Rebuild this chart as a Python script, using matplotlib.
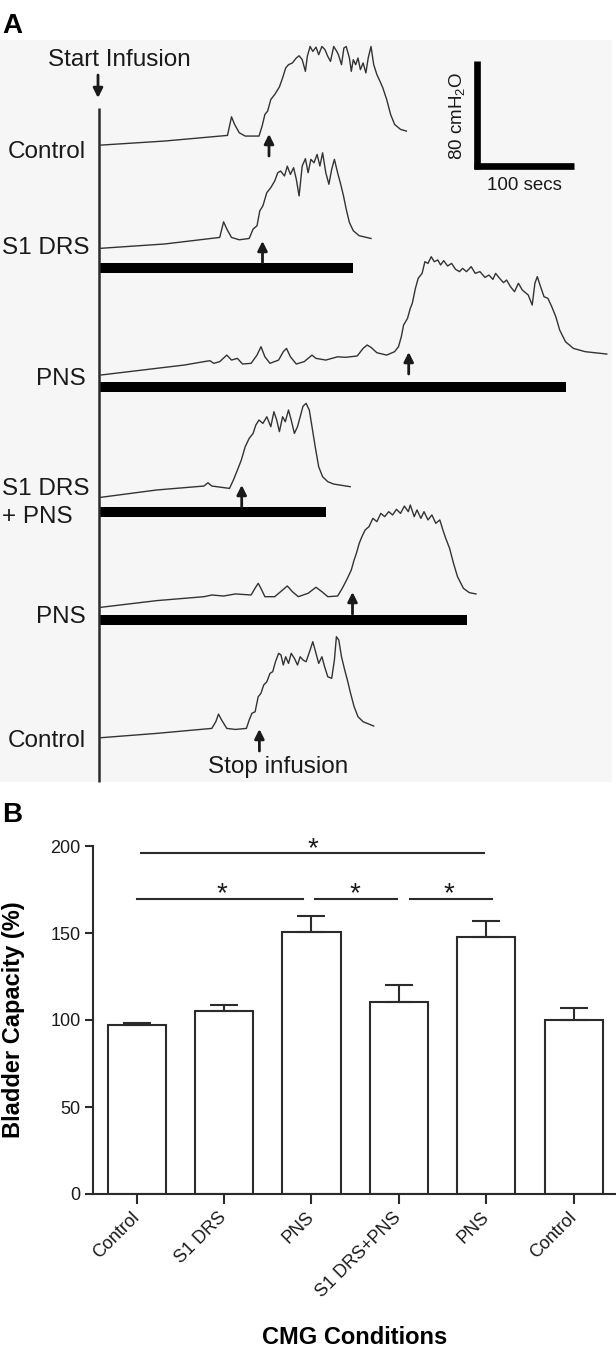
import matplotlib
matplotlib.use("Agg")
import matplotlib.pyplot as plt
from matplotlib.patches import Rectangle
import numpy as np

plt.rcParams['font.family'] = ['Liberation Sans', 'DejaVu Sans']
plt.rcParams['mathtext.fontset'] = 'custom'
plt.rcParams['mathtext.rm'] = 'Liberation Sans'
plt.rcParams['mathtext.it'] = 'Liberation Sans:italic'

# ---------------- data: panel A, CMG traces (time in s, pressure in cmH2O) ----------------
trace_labels = ["Control", "S1 DRS", "PNS", "S1 DRS\n+ PNS", "PNS", "Control"]

control1_t = [0, 63.7, 126.5, 130.5, 133.6, 138.3, 144.2, 158, 161.1, 163.9, 166.6, 169.8, 173.7,
              178.4, 181.6, 184.7, 187.5, 191.4, 195.3, 198.1, 201.2, 204.4, 206.3, 209.1, 211.8,
              215, 217.7, 220.9, 224, 226.8, 229.5, 232.7, 235.8, 237.4, 240.5, 242.9, 245.2,
              248.4, 250.3, 252.3, 254.7, 257, 259.4, 262.1, 264.9, 267.2, 270, 272.7, 275.9,
              279, 281.8, 285.7, 289.6, 293.6, 299.5, 305.4]
control1_p = [0, 3.1, 7.4, 21.6, 15.8, 9.4, 6.9, 6.9, 14.5, 23.4, 25.9, 34.8, 38.6,
              44.4, 51.3, 58.9, 61.4, 62.7, 66.5, 68.2, 65.2, 56.3, 67.7, 75.3, 71.5,
              74.8, 69.0, 75.3, 72.8, 67.7, 63.9, 75.3, 71.5, 69.0, 61.4, 74.1, 75.3,
              66.5, 56.3, 65.2, 61.4, 66.5, 57.6, 62.7, 55.1, 66.5, 75.3, 61.4, 53.8,
              48.7, 43.7, 34.8, 23.4, 15.8, 12.0, 10.7]

s1drs_t = [0, 63.7, 118.7, 122.6, 125.8, 130.5, 138.3, 148.2, 152.1, 156, 158.8, 161.9, 165.8,
           169.8, 173.7, 176.8, 179.6, 183.5, 186.3, 189.4, 192.6, 195.3, 198.1, 201.2, 204.4,
           207.1, 209.9, 213, 216.1, 218.9, 221.6, 224.8, 227.9, 230.7, 233.4, 236.6, 239.7,
           242.5, 245.2, 248.4, 252.3, 258.2, 270]
s1drs_p = [0, 3.3, 8.3, 20.2, 14.7, 8.3, 6.5, 7.5, 14.7, 17.2, 28.6, 32.4, 42.5,
           46.3, 51.4, 57.7, 59.0, 55.2, 62.7, 56.4, 61.5, 52.7, 40.0, 62.8, 68.4,
           57.7, 67.9, 65.3, 71.7, 62.8, 72.9, 57.7, 48.9, 60.3, 67.9, 57.7, 48.9,
           40.0, 29.9, 19.7, 13.4, 9.6, 7.5]

pns1_t = [0, 55.8, 83.3, 103, 108.9, 112.8, 118.7, 125.8, 130.5, 136.4, 141.5, 150.1, 156, 160,
          163.9, 169, 177.6, 182.3, 185.5, 189.4, 195.3, 203.2, 211, 214.9, 224.8, 236.6, 244.4,
          256.2, 262.1, 266.1, 270, 275.9, 285.7, 293.6, 297.5, 300.3, 302.6, 306.5, 309.3,
          311.3, 314.4, 317.2, 321.1, 323.9, 327, 330.2, 333.3, 336.8, 339.6, 342.7, 346.6,
          350.6, 354.5, 358.5, 361.6, 365.5, 370.2, 374.2, 378.9, 384, 387.9, 391.9, 394.6,
          398.6, 402.5, 405.6, 409.5, 413.5, 417.4, 421.3, 427.2, 431.2, 433.9, 436.3, 439,
          443, 446.9, 450.8, 454.8, 458.7, 464.5, 472.4, 484.2, 505.8]
pns1_p = [0, 5.1, 7.6, 10.2, 10.9, 8.9, 10.2, 15.2, 11.4, 12.7, 8.4, 8.9, 15.2, 21.6,
          13.9, 8.9, 11.4, 17.8, 20.3, 13.9, 8.4, 10.2, 15.2, 12.7, 11.4, 13.9, 13.5,
          14.5, 20.3, 22.9, 21.1, 17.0, 15.2, 17.8, 21.6, 29.2, 38.2, 43.2, 50.9,
          54.7, 66.1, 73.8, 77.6, 86.5, 85.2, 90.3, 86.5, 87.8, 84.0, 87.3, 83.2,
          85.2, 80.7, 78.9, 81.4, 78.9, 82.7, 77.6, 78.9, 74.5, 76.3, 73.0, 77.6,
          73.8, 70.5, 72.5, 67.4, 63.6, 70.0, 64.9, 61.1, 53.4, 70.0, 75.1, 68.7,
          59.8, 58.5, 52.1, 44.5, 34.3, 25.4, 20.3, 17.8, 16.0]

combo_t = [0, 55.8, 103, 106.9, 110.8, 128.5, 132.4, 136.4, 140.3, 144.2, 148.2, 152.1, 154.8,
           158, 161.9, 165.8, 169.8, 172.9, 175.7, 178.4, 181.6, 184.3, 187.5, 190.2, 193.4,
           196.5, 199.2, 202, 205.1, 208.3, 211, 214.2, 217.7, 221.6, 226.8, 232.7, 249.2]
combo_p = [0, 5.6, 8.6, 11.1, 8.6, 6.8, 13.2, 20.8, 28.4, 38.6, 45.0, 48.8, 55.1,
           59.0, 56.4, 61.5, 53.9, 65.3, 59.0, 50.1, 61.5, 57.7, 66.6, 59.0, 48.8,
           53.9, 61.5, 69.5, 71.7, 66.6, 53.9, 38.6, 23.3, 15.7, 11.9, 10.1, 8.1]

pns2_t = [0, 55.8, 103, 110.9, 122.6, 134.4, 150.1, 154, 157.2, 159.9, 163.9, 173.7, 181.6,
          186.3, 191.4, 197.3, 207.1, 215, 220.9, 226.8, 236.6, 241.3, 246.4, 250.3, 253.1,
          255.4, 258.2, 260.9, 264.1, 268, 271.9, 275.9, 279.8, 283.7, 287.7, 291.6, 295.5,
          299.5, 303.4, 307.3, 309.3, 313.2, 316, 319.9, 323, 327, 330.9, 334.8, 338.8,
          341.9, 344.7, 348.6, 352.5, 356.5, 362.4, 368.3, 375]
pns2_p = [0, 5.1, 8.1, 9.4, 8.6, 10.2, 9.4, 14.5, 18.3, 14.5, 8.1, 8.1, 13.2,
          16.3, 11.9, 8.1, 10.7, 15.3, 11.9, 8.1, 8.6, 14.5, 22.1, 28.5, 36.1,
          41.2, 48.8, 53.9, 59.0, 61.6, 67.9, 65.4, 71.7, 69.2, 73.0, 70.5, 74.8,
          71.7, 77.3, 73.0, 78.1, 69.2, 74.3, 67.9, 73.0, 66.7, 70.5, 64.1, 66.7,
          59.0, 52.7, 45.0, 33.6, 23.4, 14.5, 11.2, 10.2]

control2_t = [0, 55.8, 110.8, 114.8, 117.5, 120.6, 125.8, 134.4, 145.4, 148.2, 150.9, 154.1,
              157.2, 159.9, 162.7, 165.8, 169, 171.7, 174.5, 177.6, 180, 182.3, 184.7, 187.5,
              190.2, 193.4, 196.5, 199.2, 202, 205.1, 209.1, 211.8, 215, 217.7, 220.9, 223.6,
              226.8, 230.7, 233.4, 235.4, 237.8, 240.5, 243.7, 246.4, 249.6, 253.1, 257,
              262.1, 272.7]
control2_p = [0, 3.3, 7.1, 12.2, 18.0, 13.5, 7.1, 6.3, 7.1, 13.5, 18.6, 19.8,
              31.3, 33.8, 40.2, 42.7, 49.1, 50.4, 58.0, 64.4, 63.1, 55.5, 61.8, 56.7,
              64.4, 60.6, 55.5, 61.8, 59.3, 58.0, 66.9, 73.3, 64.4, 56.7, 61.8, 54.2,
              46.5, 45.3, 59.3, 77.1, 74.5, 61.8, 51.7, 44.0, 33.8, 23.7, 16.0,
              12.2, 8.9]

# time of voiding (stop infusion arrows), s
void_times = [168, 161.5, 307.7, 140.7, 251.5, 158.4]
# stimulation durations (s) for S1 DRS, PNS, S1 DRS + PNS, PNS
stim_durations = [253, 466, 226, 367]

# ---------------- data: panel B ----------------
conditions = ["Control", "S1 DRS", "PNS", "S1 DRS+PNS", "PNS", "Control"]
capacity = [97.3, 105.1, 150.8, 110.2, 147.8, 99.8]
capacity_sem = [1.1, 3.7, 8.8, 9.8, 8.9, 6.9]
sig_pairs = [(0.0, 1.9), (2.04, 2.98), (3.13, 4.07), (0.05, 3.97)]
sig_levels = [169.8, 169.8, 169.8, 196.0]
star_x = [0.98, 2.5, 3.57, 2.02]
star_y = [177.6, 177.6, 177.6, 204.0]

# ---------------- layout ----------------
W, H = 616, 1355
PX_PER_S = 1.0
PX_PER_CM = 1.31
A_BOTTOM = 800
INK = '#2b2b2b'


def fx(x):
    return x / W


def fy(y):
    return 1 - y / H


def ay(ypx):
    # pixel row -> panel A data units
    return (A_BOTTOM - ypx) / PX_PER_CM


fig = plt.figure(figsize=(W / 100, H / 100), dpi=100)
fig.patches.append(Rectangle((0, fy(782)), fx(612), (782 - 40) / H, transform=fig.transFigure,
                             facecolor='#f6f6f6', edgecolor='none', zorder=-10))

# ---------- panel A ----------
ax_a = fig.add_axes([0, fy(A_BOTTOM), 1, A_BOTTOM / H])
ax_a.set_xlim(-101 / PX_PER_S, (W - 101) / PX_PER_S)
ax_a.set_ylim(0, A_BOTTOM / PX_PER_CM)
ax_a.axis('off')

trace_rows = [145.1, 248.3, 375.0, 497.3, 607.3, 737.7]
traces = [(control1_t, control1_p), (s1drs_t, s1drs_p), (pns1_t, pns1_p),
          (combo_t, combo_p), (pns2_t, pns2_p), (control2_t, control2_p)]
for row, (t, p) in zip(trace_rows, traces):
    ax_a.plot(t, ay(row) + np.array(p), color='#333333', lw=1.0)

stim_rows = [267.7, 387.0, 512.3, 620.0]
ax_a.barh([ay(r) for r in stim_rows], stim_durations, left=-1.5, height=10 / PX_PER_CM,
          color='black')

arrow_tips = [134, 241, 352, 485, 592, 729]
for t, tip in zip(void_times, arrow_tips):
    ax_a.annotate('', xy=(t, ay(tip)), xytext=(t, ay(tip + 22)),
                  arrowprops=dict(arrowstyle='-|>', color='#1a1a1a', lw=2,
                                  mutation_scale=14, shrinkA=0, shrinkB=0))

# vertical baseline of panel A
ax_a.plot([-1.7, -1.7], [ay(108), ay(782)], color=INK, lw=1.8, solid_capstyle='butt')

# scale bar: 100 s and 80 cmH2O
ax_a.plot([375.5, 375.5], [ay(169), ay(169) + 80 + 3 / PX_PER_CM], color='black', lw=4.8,
          solid_capstyle='butt')
ax_a.plot([373, 373 + 100], [ay(166), ay(166)], color='black', lw=4.8, solid_capstyle='butt')
fig.text(fx(524.5), fy(190), '100 secs', fontsize=13.5, ha='center', va='baseline', color='#1a1a1a')
fig.text(fx(457), fy(115.5), '80 cmH$_2$O', fontsize=13.5, rotation=90, ha='center', va='center',
         color='#1a1a1a')

# labels
fig.text(fx(2), fy(33), 'A', fontsize=20, fontweight='bold', ha='left', va='baseline')
fig.text(fx(2), fy(822), 'B', fontsize=20, fontweight='bold', ha='left', va='baseline')
fig.text(fx(119), fy(66), 'Start Infusion', fontsize=17.5, ha='center', va='baseline', color='#1a1a1a')
ax_a.annotate('', xy=(fx(98), fy(98)), xycoords='figure fraction',
              xytext=(fx(98), fy(75)), textcoords='figure fraction',
              arrowprops=dict(arrowstyle='-|>', color='#1a1a1a', lw=2, mutation_scale=14,
                              shrinkA=0, shrinkB=0))
fig.text(fx(278.5), fy(773), 'Stop infusion', fontsize=17.5, ha='center', va='baseline', color='#1a1a1a')

label_pos = [(86, 158.5, 'right'), (2, 254, 'left'), (86, 385, 'right'),
             (2, 495, 'left'), (86, 623, 'right'), (86, 747, 'right')]
for text, (x, y, ha) in zip(trace_labels, label_pos):
    lines = text.split('\n')
    for k, line in enumerate(lines):
        fig.text(fx(x), fy(y + 28 * k), line, fontsize=17.5, ha=ha, va='baseline', color='#1a1a1a')

# ---------- panel B ----------
ax_b = fig.add_axes([fx(93), fy(1194), fx(616) - fx(93), (1194 - 846) / H])
x = np.arange(len(conditions))
ax_b.bar(x, capacity, width=0.664, color='white', edgecolor=INK, linewidth=1.5, zorder=2)
ax_b.errorbar(x, capacity, yerr=[np.zeros(len(x)), capacity_sem], fmt='none', ecolor=INK,
              elinewidth=1.5, capsize=10, capthick=1.5, zorder=3)

for (x0, x1), lvl in zip(sig_pairs, sig_levels):
    ax_b.plot([x0, x1], [lvl, lvl], color=INK, lw=1.5, clip_on=False)
for sx, sy in zip(star_x, star_y):
    ax_b.annotate('*', xy=(sx, sy), xytext=(0, -12), textcoords='offset points',
                  ha='center', va='baseline', fontsize=20, color='#1a1a1a', annotation_clip=False)

ax_b.set_xlim(-0.5, 5.484)
ax_b.set_ylim(0, 200)
ax_b.set_yticks([0, 50, 100, 150, 200])
ax_b.set_xticks(x)
ax_b.set_xticklabels(conditions, rotation=45, ha='right', va='center', rotation_mode='anchor',
                     fontsize=13, color='#1a1a1a')
ax_b.tick_params(axis='y', direction='out', length=6, width=1.5, color=INK, labelsize=13,
                 labelcolor='#1a1a1a', pad=3)
ax_b.tick_params(axis='x', direction='out', length=7, width=1.5, color=INK, pad=8)
for side in ['top', 'right']:
    ax_b.spines[side].set_visible(False)
for side in ['left', 'bottom']:
    ax_b.spines[side].set_linewidth(1.5)
    ax_b.spines[side].set_color(INK)

ax_b.set_ylabel('Bladder Capacity (%)', fontsize=17, fontweight='bold', va='center')
ax_b.yaxis.set_label_coords((14 - 93) / 523, 0.5)
ax_b.set_xlabel('CMG Conditions', fontsize=17, fontweight='bold', va='center')
ax_b.xaxis.set_label_coords(0.5, (1194 - 1337) / 348)

fig.savefig('out.png', dpi=100)
